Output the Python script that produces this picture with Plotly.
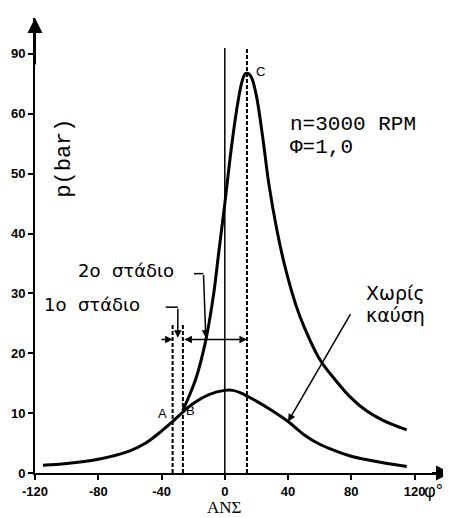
import plotly.graph_objects as go

# Data (crank angle in degrees, pressure in bar)
motoring_angle = [-115, -100, -80, -60, -50, -40, -33, -26, -20, -10, 0, 5, 10, 20, 30, 40, 50, 60, 70, 80, 90, 100, 115]
motoring_p = [1.3, 1.6, 2.3, 3.7, 5.0, 7.0, 8.6, 10.3, 11.6, 13.1, 13.8, 13.8, 13.4, 12.0, 10.4, 8.6, 6.4, 4.8, 3.7, 2.8, 2.2, 1.7, 1.1]

firing_angle = [-26.5, -22, -18, -12, -7, -4, 0, 4, 8, 11, 13, 15, 17, 20, 24, 28, 33, 38, 45, 50, 60, 70, 80, 90, 100, 115]
firing_p = [10.5, 13.2, 16, 22.2, 30.0, 36.5, 45, 54, 61.5, 65.5, 66.7, 66.7, 66.0, 63, 56, 48, 40.5, 34.5, 28, 24.5, 19, 15.5, 12.5, 10.3, 8.8, 7.2]

angle_A = -33
angle_B = -26.5
angle_C = 14
tdc_angle = 0

y_tick_vals = [0, 10, 20, 30, 40, 50, 60, 70]
y_tick_text = ["0", "10", "20", "30", "40", "50", "60", "90"]
x_tick_vals = [-120, -80, -40, 0, 40, 80, 120]
x_tick_text = ["-120", "-80", "-40", "0", "40", "80", "120"]

Y_MAX = 76
X_MAX = 143
stage_y = 22.3
FONT_TICK = "Liberation Sans"
MONO = "Liberation Mono"
GREEK = "DejaVu Sans"
SP = "\u00a0\u00a0"

fig = go.Figure()

# vertical reference lines
fig.add_trace(go.Scatter(x=[tdc_angle, tdc_angle], y=[0, 71], mode="lines",
                         line=dict(color="black", width=1.5), showlegend=False))
for a, top in [(angle_A, 25), (angle_B, 25), (angle_C, 71)]:
    fig.add_trace(go.Scatter(x=[a, a], y=[0, top], mode="lines",
                             line=dict(color="black", width=2, dash="4px,2px"), showlegend=False))

# curves
fig.add_trace(go.Scatter(x=motoring_angle, y=motoring_p, mode="lines", line_shape="spline",
                         line=dict(color="black", width=3), showlegend=False))
fig.add_trace(go.Scatter(x=firing_angle, y=firing_p, mode="lines", line_shape="spline",
                         line=dict(color="black", width=3), showlegend=False))

# leader horizontal stubs
fig.add_trace(go.Scatter(x=[-19.5, -13.5], y=[33.3, 33.3], mode="lines",
                         line=dict(color="black", width=1.5), showlegend=False))
fig.add_trace(go.Scatter(x=[-37.4, -29.7], y=[27.7, 27.7], mode="lines",
                         line=dict(color="black", width=1.5), showlegend=False))

anns = []
def arrow(x, y, ax, ay, side="end", w=1.5, size=1):
    anns.append(dict(x=x, y=y, ax=ax, ay=ay, xref="x", yref="y", axref="x", ayref="y",
                     showarrow=True, arrowhead=2, arrowsize=size, arrowwidth=w,
                     arrowcolor="black", arrowside=side, text=""))

# axis arrows
arrow(-120, Y_MAX, -120, 68, w=2, size=1.5)
arrow(X_MAX, 0, 130, 0, w=2, size=1.5)
# stage dimension arrows
arrow(angle_A, stage_y, -41, stage_y)
arrow(angle_C, stage_y, angle_B, stage_y, side="end+start")
# leaders
arrow(-12, stage_y + 0.3, -13.5, 33.3)
arrow(-29.7, stage_y + 0.3, -29.7, 27.7)
arrow(40, 8.6, 80, 26.8)

def text(x, y, s, size, family, xanchor="left", angle=0, yref="y"):
    anns.append(dict(x=x, y=y, xref="x", yref=yref, text=s, showarrow=False,
                     xanchor=xanchor, yanchor="middle", textangle=angle,
                     font=dict(size=size, family=family, color="black")))

text(-94, 33.9, "2ο" + SP + "στάδιο", 18, GREEK)
text(-115.4, 28.1, "1ο" + SP + "στάδιο", 18, GREEK)
text(40, 58.2, "n=3000 RPM", 21, MONO)
text(40, 54.3, "Φ=1,0", 21, MONO)
text(87.7, 30.1, "Χωρίς", 19, GREEK)
text(87.7, 26.4, "καύση", 19, GREEK)
text(-101.9, 52.6, "p(bar)", 22, MONO, xanchor="center", angle=-90)
text(0, -5.8 / Y_MAX, "ΑΝΣ", 17, "Liberation Serif", xanchor="center", yref="paper")
text(139, -3.0 / Y_MAX, "φ°", 18, FONT_TICK, xanchor="right", yref="paper")
text(-39.3, 10.0, "A", 13, FONT_TICK, xanchor="center")
text(-21.9, 10.5, "B", 13, FONT_TICK, xanchor="center")
text(22.6, 67.0, "C", 13, FONT_TICK, xanchor="center")

axis_common = dict(showgrid=False, zeroline=False, showline=True, linecolor="black", linewidth=2,
                   ticks="outside", ticklen=5, tickwidth=2, tickcolor="black", automargin=False,
                   tickfont=dict(size=13, family=FONT_TICK, color="black"))

# page body has an 8px margin, so the figure is sized/offset to compensate
fig.update_layout(
    template="none",
    width=443, height=510,
    margin=dict(l=27, r=0, t=10, b=45, autoexpand=False),
    paper_bgcolor="white", plot_bgcolor="white",
    annotations=anns,
    showlegend=False,
    xaxis=dict(range=[-120, X_MAX], tickvals=x_tick_vals,
               ticktext=["<b>%s</b>" % t for t in x_tick_text], **axis_common),
    yaxis=dict(range=[0, Y_MAX], tickvals=y_tick_vals,
               ticktext=["<b>%s</b>" % t for t in y_tick_text], **axis_common),
)

fig.write_html("out.html")
